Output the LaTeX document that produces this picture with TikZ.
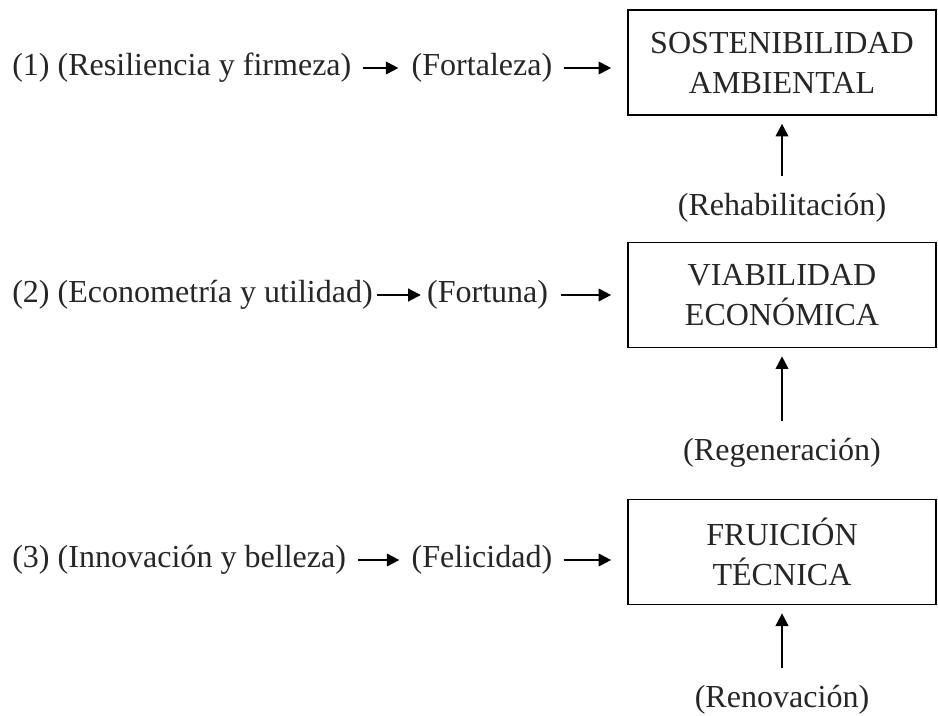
\documentclass[tikz,border=0pt]{standalone}
\usepackage{fontspec}
\setmainfont{Liberation Serif}
\usetikzlibrary{arrows.meta, positioning}

\begin{document}
\begin{tikzpicture}[>={Triangle[length=9pt, width=9pt]},
  txt/.style={inner sep=0pt, text=black!85, font=\fontsize{22.8}{28.5}\selectfont},
  goalbox/.style={draw, line width=1.2pt, minimum width=7.7cm, minimum height=2.625cm,
                  align=center, text=black!85, font=\fontsize{22.8}{28.5}\selectfont},
  flow/.style={->, line width=1.4pt}]
  \useasboundingbox (0,0) rectangle (23.45,-17.875);
  % Goal boxes
  \node[goalbox] (g1) at (19.55,-1.5625) {SOSTENIBILIDAD\\AMBIENTAL};
  \node[goalbox] (g2) at (19.55,-7.375) {VIABILIDAD\\ECONÓMICA};
  \node[goalbox] (g3) at (19.55,-13.8) {FRUICIÓN\\TÉCNICA};
  % Labels below the boxes
  \node[txt] (l1) at (19.55,-5.2) {(Rehabilitación)};
  \node[txt] (l2) at (19.55,-11.325) {(Regeneración)};
  \node[txt] (l3) at (19.55,-17.5) {(Renovación)};
  % Rows on the left
  \node[txt, anchor=west] (c1) at (0.3,-1.7) {(1) (Resiliencia y firmeza)};
  \node[txt] (v1) at (12.05,-1.7) {(Fortaleza)};
  \node[txt, anchor=west] (c2) at (0.3,-7.375) {(2) (Econometría y utilidad)};
  \node[txt] (v2) at (12.19,-7.375) {(Fortuna)};
  \node[txt, anchor=west] (c3) at (0.3,-14.0) {(3) (Innovación y belleza)};
  \node[txt] (v3) at (12.05,-14.0) {(Felicidad)};
  % Horizontal arrows
  \draw[flow, shorten <=0.275cm, shorten >=0.325cm] (c1.east) -- (v1.west);
  \draw[flow, shorten <=0.275cm, shorten >=0.4cm] (v1.east) -- (v1.east -| g1.west);
  \draw[flow, shorten <=0.1cm, shorten >=0.15cm] (c2.east) -- (v2.west);
  \draw[flow, shorten <=0.325cm, shorten >=0.4cm] (v2.east) -- (v2.east -| g2.west);
  \draw[flow, shorten <=0.3cm, shorten >=0.3cm] (c3.east) -- (v3.west);
  \draw[flow, shorten <=0.275cm, shorten >=0.4cm] (v3.east) -- (v3.east -| g3.west);
  % Vertical arrows
  \draw[flow, shorten <=0.42cm, shorten >=0.2cm] (l1) -- (g1);
  \draw[flow, shorten <=0.42cm, shorten >=0.2cm] (l2) -- (g2);
  \draw[flow, shorten <=0.42cm, shorten >=0.2cm] (l3) -- (g3);
\end{tikzpicture}
\end{document}
